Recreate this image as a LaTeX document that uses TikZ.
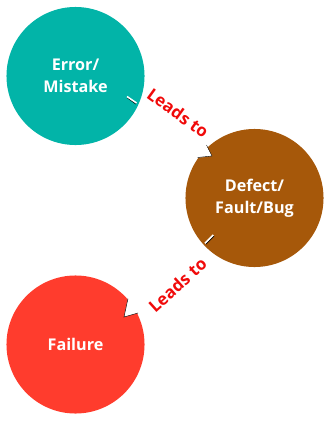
\documentclass[tikz,border=0pt]{standalone}
\usepackage{fontspec}
\setmainfont{Open Sans}
\usetikzlibrary{positioning,calc}
\definecolor{errteal}{RGB}{2,180,168}
\definecolor{bugbrown}{RGB}{166,88,10}
\definecolor{failred}{RGB}{255,60,45}
\definecolor{leadred}{RGB}{240,10,10}
\tikzset{
  blob/.style={circle, minimum size=3.45cm, inner sep=0pt, text=white, align=center,
    font=\fontsize{11.5}{15.6}\selectfont\bfseries},
  leads/.style={text=leadred, font=\fontsize{12}{14}\selectfont\bfseries, inner sep=0pt},
  notch/.style={draw=black, line width=0.3pt},
  tick/.style={white, line width=1.1pt},
  tickshade/.style={black, line width=0.6pt},
}
\begin{document}
\begin{tikzpicture}[x=0.025cm, y=-0.025cm]
\useasboundingbox (0,0) rectangle (330,421);
% the three stages
\node[blob, fill=errteal] (err) at (75.5,76) {Error/\\Mistake};
\node[blob, fill=bugbrown] (dfct) at (254.5,198) {Defect/\\Fault/Bug};
\node[blob, fill=failred] (fail) at (75.5,344.5) {Failure};
% cut-ins where an arrow would enter
\fill[white] (196,158) -- (212,156) -- (206,145) -- (200,141) -- cycle;
\draw[notch] (197.5,157.5) -- (212,156) -- (206.5,145);
\fill[white] (128,298) -- (124,317) -- (138,313) -- (140,300) -- cycle;
\draw[notch] (128,298.5) -- (124,317) -- (138,313);
% small out-ticks
\draw[tickshade] (127,97.5) -- (136,104);
\draw[tick] (127,96.5) -- (136.5,103);
\draw[tickshade] (206,244) -- (214,236);
\draw[tick] (205,243.3) -- (213.3,235);
% labels
\node[leads, rotate=-36] (lab1) at (178,113) {Leads to};
\node[leads, rotate=42] (lab2) at (177.5,285) {Leads to};
\end{tikzpicture}
\end{document}
